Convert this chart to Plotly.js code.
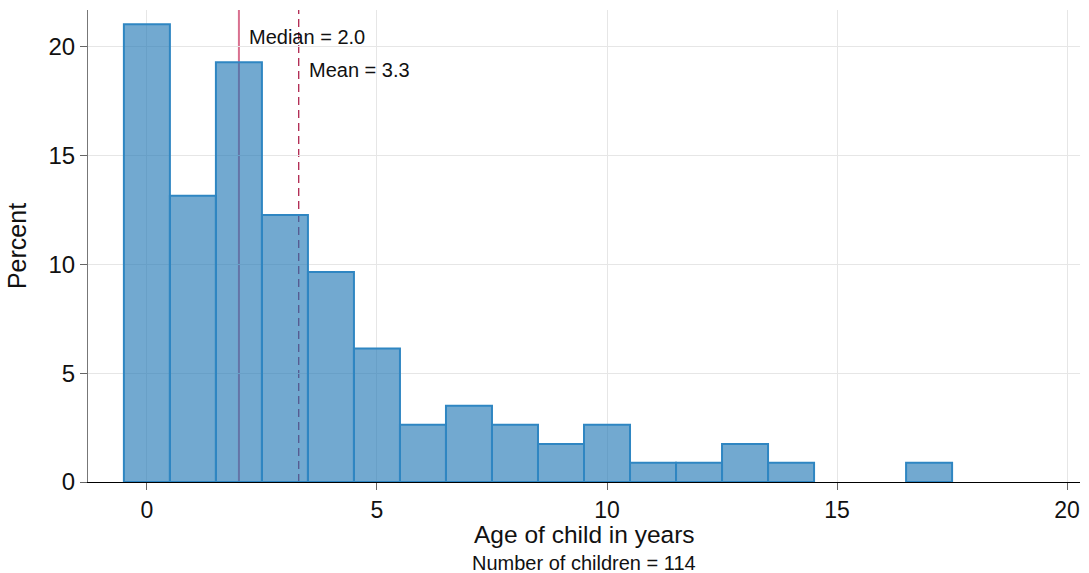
<!DOCTYPE html>
<html>
<head>
<meta charset="utf-8">
<script src="https://cdn.plot.ly/plotly-3.0.1.min.js"></script>
<style>html,body{margin:0;padding:0;background:#fff;}#chart{width:1089px;height:573px;}</style>
</head>
<body>
<div id="chart"></div>
<script>
const ages = [0, 1, 2, 3, 4, 5, 6, 7, 8, 9, 10, 11, 12, 13, 14, 15, 16, 17];
const percents = [21.05, 13.16, 19.30, 12.28, 9.65, 6.14, 2.63, 3.51, 2.63, 1.75, 2.63, 0.88, 0.88, 1.75, 0.88, 0, 0, 0.88];
const medianAge = 2.0;
const meanAge = 3.3;
const nChildren = 114;
const xTicks = [0, 5, 10, 15, 20];
const yTicks = [0, 5, 10, 15, 20];

const fontFam = 'Liberation Sans, Arial, sans-serif';

const trace = {
  type: 'bar',
  x: ages,
  y: percents,
  width: 1,
  marker: {
    color: 'rgba(31,119,180,0.63)',
    line: {color: '#2f86c2', width: percents.map(v => v > 0 ? 2 : 0)}
  },
  hoverinfo: 'x+y'
};

const layout = {
  width: 1089, height: 573,
  margin: {l: 88, r: 9, t: 10, b: 91},
  paper_bgcolor: '#fff', plot_bgcolor: '#fff',
  font: {family: fontFam, color: '#111'},
  showlegend: false,
  bargap: 0,
  xaxis: {
    range: [-1.28, 20.28],
    tickvals: xTicks,
    ticktext: xTicks.map(String),
    ticks: 'outside', ticklen: 7, tickcolor: '#666', tickwidth: 1,
    tickfont: {size: 23, color: '#111'},
    showgrid: true, gridcolor: '#e6e6e6', gridwidth: 1,
    zeroline: false,
    showline: true, linecolor: '#000', linewidth: 1
  },
  yaxis: {
    range: [0, 21.7],
    tickvals: yTicks,
    ticktext: yTicks.map(String),
    ticks: 'outside', ticklen: 7, tickcolor: '#666', tickwidth: 1,
    tickfont: {size: 24, color: '#111'},
    showgrid: true, gridcolor: '#e6e6e6', gridwidth: 1,
    zeroline: false,
    showline: true, linecolor: '#777', linewidth: 1,
    title: {text: 'Percent', font: {size: 25, color: '#111'}, standoff: 14}
  },
  shapes: [
    {type: 'line', xref: 'x', yref: 'paper', x0: medianAge, x1: medianAge, y0: 0, y1: 1,
     line: {color: '#d9708f', width: 2}, layer: 'below'},
    {type: 'line', xref: 'x', yref: 'paper', x0: meanAge, x1: meanAge, y0: 0, y1: 1,
     line: {color: '#a8123f', width: 1.2, dash: '8px,5px'}, layer: 'below'}
  ],
  annotations: [
    {x: medianAge, y: 20.45, xref: 'x', yref: 'y', xanchor: 'left', yanchor: 'middle', xshift: 8,
     text: 'Median = ' + medianAge.toFixed(1), showarrow: false, font: {size: 20, color: '#111'}},
    {x: meanAge, y: 18.95, xref: 'x', yref: 'y', xanchor: 'left', yanchor: 'middle', xshift: 8,
     text: 'Mean = ' + meanAge.toFixed(1), showarrow: false, font: {size: 20, color: '#111'}},
    {x: 0.5, y: -0.111, xref: 'paper', yref: 'paper', xanchor: 'center', yanchor: 'middle',
     text: 'Age of child in years', showarrow: false, font: {size: 24.5, color: '#111'}},
    {x: 0.5, y: -0.1715, xref: 'paper', yref: 'paper', xanchor: 'center', yanchor: 'middle',
     text: 'Number of children = ' + nChildren, showarrow: false, font: {size: 20, color: '#111'}}
  ]
};

Plotly.newPlot('chart', [trace], layout, {displayModeBar: false, staticPlot: true});
</script>
</body>
</html>
